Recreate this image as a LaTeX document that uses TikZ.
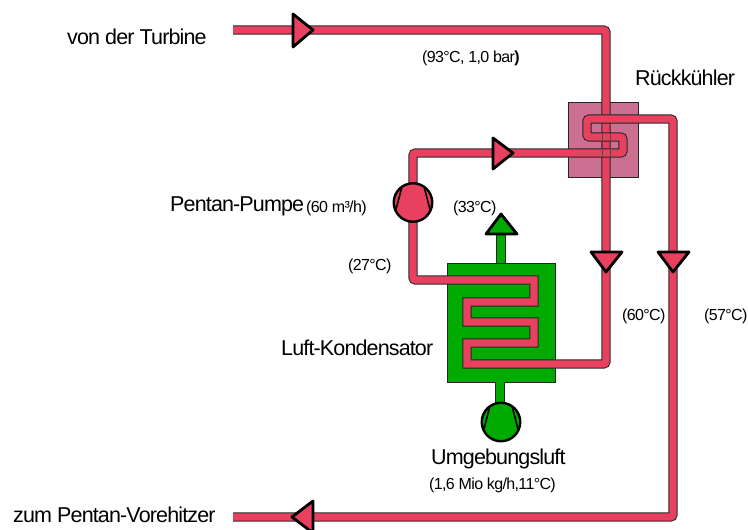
\documentclass[tikz,border=0pt]{standalone}
\usepackage{fontspec}
\setmainfont[LetterSpace=-4]{Liberation Sans}
\definecolor{pipered}{HTML}{E8415F}
\definecolor{coolmauve}{HTML}{CC7092}
\definecolor{airgreen}{HTML}{00AA00}
\tikzset{
  pipe/.style={draw=black!85,line width=1pt,double=pipered,double distance=7.2pt,line join=miter},
  airpipe/.style={draw=black!85,line width=1pt,double=airgreen,double distance=7.2pt},
  redtri/.style={draw=black,line width=2.8pt,fill=pipered,line join=round},
  greentri/.style={draw=black,line width=2.8pt,fill=airgreen,line join=round},
  pumpline/.style={draw=black,line width=1.6pt},
  box/.style={draw=black!85,line width=1pt},
  pump/.style={circle,draw=black,line width=2.4pt,minimum size=38.5pt,inner sep=0pt},
  big/.style={font=\fontsize{21.5}{23}\selectfont,inner sep=0pt},
  small/.style={font=\fontsize{16}{18}\selectfont,inner sep=0pt},
}
\begin{document}
\begin{tikzpicture}[x=1pt,y=-1pt]
\useasboundingbox (0,0) rectangle (748,530);
% boxes
\draw[box,fill=coolmauve] (568,102) rectangle (638,177);
\draw[box,fill=airgreen] (447,263) rectangle (555,382);
% coordinates
\coordinate (inlet) at (233,30);
\coordinate (c1) at (606,30);
\coordinate (c2) at (606,364);
\coordinate (c3) at (560,364);
\coordinate (s1) at (467,364);
\coordinate (s2) at (467,343);
\coordinate (s3) at (534,343);
\coordinate (s4) at (534,322);
\coordinate (s5) at (467,322);
\coordinate (s6) at (467,302);
\coordinate (s7) at (534,302);
\coordinate (s8) at (534,280);
\coordinate (s9) at (500,280);
\coordinate (p1) at (413,280);
\coordinate (p2) at (413,153);
\coordinate (p3) at (503,153);
\coordinate (p4) at (497,153);
\coordinate (r1) at (623,153);
\coordinate (r2) at (623,137);
\coordinate (r3) at (587,137);
\coordinate (r4) at (587,119);
\coordinate (o1) at (673,119);
\coordinate (o2) at (673,517);
\coordinate (outlet) at (233,517);
\coordinate (airtop) at (501,263);
\coordinate (airout) at (501,234);
\coordinate (airbot) at (500,382);
\coordinate (airin) at (500,403);
% air ducts
\draw[airpipe] (airtop) -- (airout);
\draw[airpipe] (airbot) -- (airin);
% pipes
\draw[pipe] (inlet) [rounded corners=2.5pt] -- (c1) -- (c2) -- (c3) [sharp corners] -- (s1) -- (s2) -- (s3) -- (s4) -- (s5) -- (s6) -- (s7) -- (s8) -- (s9) [rounded corners=2.5pt] -- (p1) -- (p2) -- (p3);
\draw[pipe] (p4) [rounded corners=2.5pt] -- (r1) -- (r2) -- (r3) -- (r4) -- (o1) -- (o2) -- (outlet);
% straight pipe seen through the coil
\draw[black!70,line width=.8pt] (602,133) -- (602,157) (610,133) -- (610,157);
% triangles
\draw[redtri] (293,14) -- (313,30) -- (293,47) -- cycle;
\draw[redtri] (493,138) -- (513,153) -- (493,169) -- cycle;
\draw[redtri] (591,252) -- (606,272) -- (622,252) -- cycle;
\draw[redtri] (658,252) -- (673,272) -- (689,252) -- cycle;
\draw[redtri] (313,501) -- (292,517) -- (313,533) -- cycle;
\draw[greentri] (486,234) -- (501,214) -- (517,234) -- cycle;
% pumps
\node[pump,fill=pipered] (pentanpump) at (413,202.5) {};
\draw[pumpline] ([shift={(-11,-16)}]pentanpump.center) -- ([shift={(-17,7)}]pentanpump.center);
\draw[pumpline] ([shift={(11,-16)}]pentanpump.center) -- ([shift={(17,7)}]pentanpump.center);
\node[pump,fill=airgreen] (airpump) at (501,422) {};
\draw[pumpline] ([shift={(-11,-16)}]airpump.center) -- ([shift={(-17,7)}]airpump.center);
\draw[pumpline] ([shift={(11,-16)}]airpump.center) -- ([shift={(17,7)}]airpump.center);
% labels
\node[big,anchor=west] (t1) at (67,37) {von der Turbine};
\node[small,anchor=west] (t2) at (422,58) {(93°C, 1,0 bar\textbf{)}};
\node[big,anchor=west] (t3) at (635,78) {Rückkühler};
\node[big,anchor=west] (t4) at (170,206) {Pentan-Pumpe};
\node[small,anchor=west] (t5) at (306,208) {(60 m³/h)};
\node[small,anchor=west] (t6) at (453,208) {(33°C)};
\node[small,anchor=west] (t7) at (348,266) {(27°C)};
\node[big,anchor=west] (t8) at (281,348) {Luft-Kondensator};
\node[small,anchor=west] (t9) at (622,316) {(60°C)};
\node[small,anchor=west] (t10) at (704,316) {(57°C)};
\node[big,anchor=west] (t11) at (431,459) {Umgebungsluft};
\node[small,anchor=west] (t12) at (429,485) {(1,6 Mio kg/h,11°C)};
\node[big,anchor=west] (t13) at (13,515) {zum Pentan-Vorehitzer};
\end{tikzpicture}
\end{document}
